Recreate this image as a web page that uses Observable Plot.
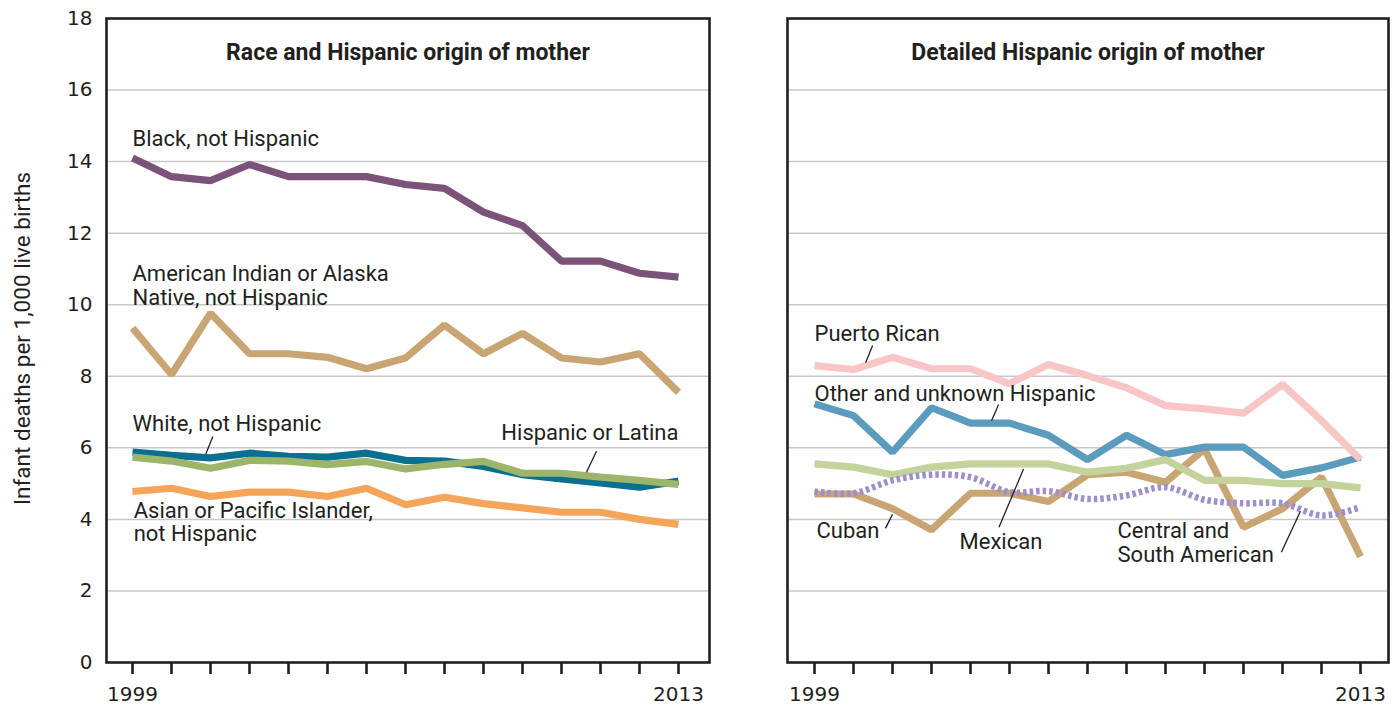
<!DOCTYPE html>
<html><head><meta charset="utf-8">
<script src="https://cdn.jsdelivr.net/npm/d3@7"></script>
<script src="https://cdn.jsdelivr.net/npm/@observablehq/plot@0.6"></script>
<style>
body{margin:0;background:#fff}
#wrap{display:flex;width:1394px;height:705px;overflow:hidden}
#wrap svg{display:block}
</style>
</head><body><div id="wrap"></div>
<script>
// ---- data ----
const years = [1999,2000,2001,2002,2003,2004,2005,2006,2007,2008,2009,2010,2011,2012,2013];
const labeledYears = [1999, 2013];
const yTicks = [0,2,4,6,8,10,12,14,16,18];

const blackNH   = [14.1,13.58,13.47,13.92,13.58,13.58,13.58,13.36,13.25,12.59,12.21,11.22,11.22,10.88,10.77];
const aianNH    = [9.35,8.05,9.76,8.63,8.63,8.53,8.21,8.51,9.43,8.63,9.2,8.51,8.4,8.63,7.55];
const whiteNH   = [5.88,5.79,5.72,5.85,5.76,5.74,5.85,5.65,5.63,5.48,5.25,5.13,5.02,4.9,5.07];
const hispanic  = [5.74,5.63,5.43,5.65,5.63,5.53,5.62,5.41,5.54,5.62,5.29,5.29,5.18,5.09,4.98];
const apiNH     = [4.78,4.87,4.64,4.76,4.76,4.64,4.87,4.41,4.62,4.44,4.32,4.2,4.2,4.0,3.86];

const puertoRican  = [8.3,8.19,8.53,8.21,8.21,7.79,8.33,8.02,7.68,7.18,7.09,6.97,7.77,6.76,5.67];
const otherHisp    = [7.23,6.9,5.88,7.12,6.69,6.69,6.35,5.67,6.35,5.81,6.02,6.02,5.23,5.44,5.74];
const mexican      = [5.55,5.46,5.25,5.46,5.55,5.55,5.55,5.32,5.43,5.67,5.09,5.09,5.0,5.0,4.88];
const cuban        = [4.71,4.71,4.3,3.71,4.73,4.73,4.5,5.25,5.32,5.04,5.97,3.78,4.3,5.18,2.96];
const centralSouth = [4.78,4.73,5.09,5.25,5.18,4.76,4.79,4.57,4.67,4.9,4.55,4.45,4.45,4.11,4.34];

const leftTitle = "Race and Hispanic origin of mother";
const rightTitle = "Detailed Hispanic origin of mother";
const yLabel = "Infant deaths per 1,000 live births";

// label anchors (data units)
const leftLabels = [
  {text: "Black, not Hispanic", x: 1999, y: 14.64},
  {text: "American Indian or Alaska\nNative, not Hispanic", x: 1999, y: 10.54},
  {text: "White, not Hispanic", x: 1999, y: 6.69},
  {text: "Asian or Pacific Islander,\nnot Hispanic", x: 1999.03, y: 3.93}
];
const leftLabelsEnd = [{text: "Hispanic or Latina", x: 2013, y: 6.41}];
const leftLeaders = [
  {x1: 2001.06, y1: 6.32, x2: 2000.88, y2: 5.83},
  {x1: 2010.90, y1: 5.91, x2: 2010.64, y2: 5.32}
];
const rightLabels = [
  {text: "Puerto Rican", x: 1999, y: 9.19},
  {text: "Other and unknown Hispanic", x: 1999, y: 7.53},
  {text: "Cuban", x: 1999.05, y: 3.69},
  {text: "Mexican", x: 2002.72, y: 3.39},
  {text: "Central and\nSouth American", x: 2006.77, y: 3.35}
];
const rightLeaders = [
  {x1: 2000.49, y1: 8.86, x2: 2000.31, y2: 8.38},
  {x1: 2003.72, y1: 7.21, x2: 2003.54, y2: 6.76},
  {x1: 2000.82, y1: 3.75, x2: 2001.0, y2: 4.14},
  {x1: 2003.73, y1: 3.78, x2: 2004.36, y2: 5.41},
  {x1: 2010.97, y1: 3.08, x2: 2011.46, y2: 4.23}
];

const rows = (values) => years.map((year, i) => ({year, value: values[i]}));
const ink = "#231f20";
const lineOpts = (color) => ({x: "year", y: "value", stroke: color, strokeWidth: 7.2, strokeLinecap: "butt", strokeLinejoin: "miter"});

function common(marks, opts) {
  return Plot.plot({
    width: opts.width, height: 705,
    marginLeft: opts.ml, marginRight: opts.mr, marginTop: 18, marginBottom: 43,
    x: {domain: opts.xdomain, axis: null, label: null},
    y: {domain: [0, 18], axis: null, label: null},
    style: {fontFamily: "DejaVu Sans", fontSize: "20px", color: ink, background: "#fff", overflow: "visible"},
    marks: [
      Plot.ruleY(yTicks.filter(d => d > 0 && d < 18), {stroke: "#c8c8c8", strokeWidth: 1.5}),
      ...marks,
      Plot.axisX({ticks: years, tickSize: 12, tickPadding: 12, strokeWidth: 2.6, stroke: ink, fill: ink,
        fontSize: 20, fontFamily: "DejaVu Sans", label: null,
        tickFormat: d => labeledYears.includes(d) ? String(d) : ""}),
      Plot.frame({stroke: ink, strokeWidth: 2.6}),
      Plot.text([opts.title], {frameAnchor: "top", dy: 34, text: d => d, fontFamily: "Roboto", fontWeight: "bold", fontSize: 23, fill: ink, lineAnchor: "middle"})
    ]
  });
}

const leftMarks = [
  Plot.line(rows(blackNH), lineOpts("#7b5379")),
  Plot.line(rows(aianNH), lineOpts("#c9a574")),
  Plot.line(rows(apiNH), lineOpts("#f5a55a")),
  Plot.line(rows(whiteNH), lineOpts("#0b6f8f")),
  Plot.line(rows(hispanic), lineOpts("#9db46b")),
  Plot.link(leftLeaders, {x1: "x1", y1: "y1", x2: "x2", y2: "y2", stroke: ink, strokeWidth: 1.3}),
  Plot.text(leftLabels, {x: "x", y: "y", text: "text", textAnchor: "start", lineAnchor: "middle", lineHeight: 1.07, fontFamily: "Roboto", fontSize: 22, fill: ink}),
  Plot.text(leftLabelsEnd, {x: "x", y: "y", text: "text", textAnchor: "end", lineAnchor: "middle", fontFamily: "Roboto", fontSize: 22, fill: ink}),
  Plot.axisY({ticks: yTicks, tickSize: 0, tickPadding: 14, fontSize: 20, fontFamily: "DejaVu Sans", fill: ink, label: null, tickFormat: d => String(d)}),
  Plot.text([yLabel], {frameAnchor: "left", dx: -84, dy: -2, rotate: -90, text: d => d, textAnchor: "middle", fontFamily: "Roboto", fontSize: 22.5, fill: ink, lineAnchor: "middle"})
];

const rightMarks = [
  Plot.line(rows(cuban), lineOpts("#c9a574")),
  Plot.line(rows(otherHisp), lineOpts("#5b9bbe")),
  Plot.line(rows(mexican), lineOpts("#c3d39b")),
  Plot.line(rows(centralSouth), {...lineOpts("#9c8fcb"), strokeWidth: 6.5, strokeDasharray: "3.5,3", curve: "catmull-rom"}),
  Plot.line(rows(puertoRican), lineOpts("#f9c6c7")),
  Plot.link(rightLeaders, {x1: "x1", y1: "y1", x2: "x2", y2: "y2", stroke: ink, strokeWidth: 1.3}),
  Plot.text(rightLabels, {x: "x", y: "y", text: "text", textAnchor: "start", lineAnchor: "middle", lineHeight: 1.07, fontFamily: "Roboto", fontSize: 22, fill: ink})
];

const left = common(leftMarks, {width: 740, ml: 106, mr: 31, xdomain: [1999 - 26/39, 2013 + 31/39], title: leftTitle});
const right = common(rightMarks, {width: 654, ml: 47, mr: 6, xdomain: [1999 - 27/39, 2013 + 28/39], title: rightTitle});
document.getElementById("wrap").append(left, right);
</script>
</body></html>
